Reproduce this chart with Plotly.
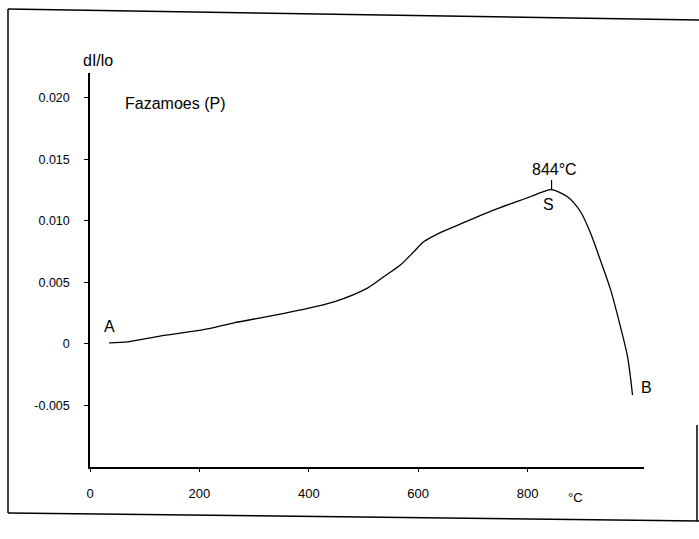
import plotly.graph_objects as go

# Data (temperature in °C, dl/lo)
temperature = [35, 69, 130, 215, 263, 312, 385, 446, 508, 537, 568, 592, 610,
               636, 683, 745, 805, 829, 844, 873, 897, 915, 933, 952, 970, 983, 992]
dl_lo = [0.00008, 0.00016, 0.00065, 0.00122, 0.00171, 0.00211, 0.00276, 0.00341,
         0.00455, 0.00545, 0.00642, 0.00748, 0.00829, 0.00894, 0.00984, 0.01098,
         0.01195, 0.01236, 0.01252, 0.01195, 0.01073, 0.00902, 0.00683, 0.00439,
         0.00138, -0.00106, -0.00415]
x_ticks = [0, 200, 400, 600, 800]
y_ticks = [-0.005, 0, 0.005, 0.010, 0.015, 0.020]
y_tick_labels = ["-0.005", "0", "0.005", "0.010", "0.015", "0.020"]
peak_T = 844
peak_dl = 0.01252

FONT = "Liberation Sans, Arial, sans-serif"
W, H = 699, 539
L, R, T, B = 90, 55, 73, 72
PW, PH = W - L - R, H - T - B


def px(x):
    return (x - L) / PW


def py(y):
    return (H - B - y) / PH


fig = go.Figure()
fig.add_trace(go.Scatter(
    x=temperature, y=dl_lo, mode="lines",
    line=dict(color="black", width=1.3, shape="spline", smoothing=0.8),
    hoverinfo="skip", showlegend=False))

# Small marker tick at the peak
fig.add_trace(go.Scatter(
    x=[peak_T, peak_T], y=[peak_dl, peak_dl + 0.0008], mode="lines",
    line=dict(color="black", width=1.2), hoverinfo="skip", showlegend=False))

annots = [
    dict(x=peak_T, y=peak_dl + 0.0008, xref="x", yref="y", text="844°C",
         yanchor="bottom", xanchor="center", yshift=0, xshift=3, size=16),
    dict(x=peak_T, y=peak_dl, xref="x", yref="y", text="S",
         yanchor="top", xanchor="center", yshift=-4, xshift=-3, size=16),
    dict(x=temperature[0], y=dl_lo[0], xref="x", yref="y", text="A",
         yanchor="bottom", xanchor="center", yshift=6, xshift=0, size=16),
    dict(x=temperature[-1], y=dl_lo[-1], xref="x", yref="y", text="B",
         yanchor="middle", xanchor="left", yshift=7, xshift=6, size=16),
    dict(x=px(123), y=py(103), xref="paper", yref="paper", text="Fazamoes (P)",
         xanchor="left", yanchor="middle", xshift=0, yshift=0, size=16),
    dict(x=px(98), y=py(61), xref="paper", yref="paper", text="dI/lo",
         xanchor="center", yanchor="middle", xshift=0, yshift=0, size=16),
    dict(x=px(575), y=py(497), xref="paper", yref="paper", text="°C",
         xanchor="center", yanchor="middle", xshift=0, yshift=0, size=13),
]
for a in annots:
    fig.add_annotation(x=a["x"], y=a["y"], xref=a["xref"], yref=a["yref"],
                       text=a["text"], showarrow=False,
                       xanchor=a["xanchor"], yanchor=a["yanchor"],
                       xshift=a["xshift"], yshift=a["yshift"],
                       font=dict(family=FONT, size=a["size"], color="black"))

# Scanned page frame (decorative)
frame = [((8, 9), (699, 20)), ((8, 9), (8, 513)), ((8, 513), (699, 521)),
         ((697, 425), (697, 521))]
for (x0, y0), (x1, y1) in frame:
    fig.add_shape(type="line", xref="paper", yref="paper",
                  x0=px(x0), y0=py(y0), x1=px(x1), y1=py(y1),
                  line=dict(color="black", width=1.5))

fig.update_xaxes(range=[0, 1013], tickvals=x_ticks, ticktext=[str(v) for v in x_ticks],
                 showline=True, linecolor="black", linewidth=1.5,
                 ticks="outside", ticklen=3, tickcolor="black", tickwidth=1,
                 showgrid=False, zeroline=False, ticklabelstandoff=11,
                 tickfont=dict(family=FONT, size=13, color="black"))
fig.update_yaxes(range=[-0.0100, 0.0220], tickvals=y_ticks, ticktext=y_tick_labels,
                 showline=True, linecolor="black", linewidth=1.5,
                 ticks="outside", ticklen=4, tickcolor="black", tickwidth=1,
                 showgrid=False, zeroline=False, ticklabelstandoff=12,
                 tickfont=dict(family=FONT, size=12.5, color="black"))

fig.update_layout(width=W, height=H, margin=dict(l=L, r=R, t=T, b=B),
                  plot_bgcolor="white", paper_bgcolor="white", showlegend=False)

fig.write_html("out.html", config={"displayModeBar": False},
               post_script="document.body.style.margin='0';document.body.style.overflow='hidden';")
